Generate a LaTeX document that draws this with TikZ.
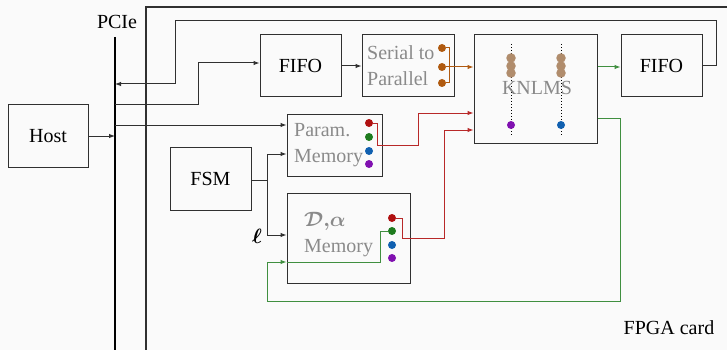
\documentclass[tikz,border=0pt]{standalone}
\usepackage{amsmath}
\usepackage{fontspec}
\setmainfont{Liberation Serif}
\usetikzlibrary{arrows.meta}
\definecolor{cred}{HTML}{B01010}
\definecolor{cgreen}{HTML}{1E7B1E}
\definecolor{cblue}{HTML}{1060B0}
\definecolor{cpurple}{HTML}{8010B0}
\definecolor{corange}{HTML}{B05A10}
\definecolor{ctan}{HTML}{B08C6C}
\definecolor{cline}{HTML}{303030}
\definecolor{ctext}{HTML}{8A8A8A}
\begin{document}
\begin{tikzpicture}[x=1pt,y=-1pt,
  font=\fontsize{20}{26}\selectfont,
  box/.style={draw=cline,line width=1pt,inner sep=0pt},
  conn/.style={draw=cline,line width=1pt},
  arr/.style={-{Latex[length=6pt,width=4.5pt]}},
  graytext/.style={text=ctext,align=left,inner sep=0pt,anchor=west},
  dot/.style={circle,fill=#1,inner sep=0pt,minimum size=8pt},
  bigdot/.style={circle,fill=#1,inner sep=0pt,minimum size=9.5pt}]
\useasboundingbox (0,0) rectangle (727,350);
\fill[white!98!black] (0,0) rectangle (727,350);
% FPGA card
\draw[cline,line width=1.4pt] (727,7) -- (146,7) -- (146,352);
\node[anchor=center] (fpga) at (669,328) {FPGA card};
% PCIe bus
\draw[black,line width=2.6pt] (115,37) coordinate (bustop) -- (115,352) coordinate (busbot);
\node (pcie) at (117,22) {PCIe};
% boxes
\node[box,minimum width=80pt,minimum height=62pt] (host) at (48,136) {Host};
\node[box,minimum width=81pt,minimum height=62pt] (fifoa) at (300.5,66) {FIFO};
\node[box,minimum width=92pt,minimum height=62pt] (s2p) at (408,66) {};
\node[graytext] (s2ptext) at (367,66) {Serial to\\Parallel};
\node[box,minimum width=123pt,minimum height=108pt] (knlms) at (535.5,89) {};
\node[box,minimum width=81pt,minimum height=62pt] (fifob) at (661.5,66) {FIFO};
\node[box,minimum width=95pt,minimum height=62pt] (param) at (334.5,145) {};
\node[graytext] (paramtext) at (294,145) {Param.\\Memory};
\node[box,minimum width=81pt,minimum height=63pt] (fsm) at (210.5,178.5) {FSM};
\node[box,minimum width=123pt,minimum height=90pt] (dmem) at (348.5,238) {};
\node[graytext] (dmemtext) at (304,235) {{\boldmath$\mathcal{D}{,}\alpha$}\\Memory};
% KNLMS internals
\draw[black,line width=1pt,dotted] (511,44) coordinate (da) -- (511,135) coordinate (db);
\draw[black,line width=1pt,dotted] (561,44) coordinate (dc) -- (561,135) coordinate (dd);
\node[text=ctext] (knlmstext) at (537,88) {KNLMS};
\foreach \y [count=\i] in {58,66,73}{
  \node[bigdot=ctan] (ta\i) at (511,\y) {};
  \node[bigdot=ctan] (tb\i) at (561,\y) {};
}
\node[dot=cpurple] (kp) at (511,125) {};
\node[dot=cblue] (kb) at (561,125) {};
% serial to parallel dots
\node[dot=corange] (o1) at (442,48) {};
\node[dot=corange] (o2) at (442,67) {};
\node[dot=corange] (o3) at (442,83) {};
% param memory dots
\node[dot=cred] (pr) at (369,123) {};
\node[dot=cgreen] (pg) at (369,137) {};
\node[dot=cblue] (pb) at (369,151) {};
\node[dot=cpurple] (pp) at (369,164) {};
% D alpha memory dots
\node[dot=cred] (mr) at (392,218) {};
\node[dot=cgreen] (mg) at (392,231) {};
\node[dot=cblue] (mb) at (392,245) {};
\node[dot=cpurple] (mp) at (392,258) {};
% bus taps
\coordinate (bhost) at (115,136);
\coordinate (bout) at (115,84);
\coordinate (bin) at (115,105);
\coordinate (bpar) at (115,125);
% connectors
\draw[conn,arr] (host.east |- bhost) -- (bhost);
\draw[conn,arr] (fifob.east) -- (716,66) -- (716,21) -- (175,21) -- (175,84) -- (bout);
\draw[conn,arr] (bin) -- (198,105) -- (198,63) -- (fifoa.west |- 0,63);
\draw[conn,arr] (bpar) -- (param.west |- 0,125);
\draw[conn,arr] (fifoa.east) -- (s2p.west);
\draw[corange,line width=1pt] (o1) -- (449,48) -- (449,83) -- (o3);
\draw[corange,line width=1pt,arr] (o2) -- (knlms.west |- o2);
\draw[cgreen!85!white,line width=1pt,arr] (knlms.east |- 0,67) -- (fifob.west |- 0,67);
\coordinate (gin) at (dmem.west |- 0,262);
\draw[cgreen!85!white,line width=1pt,arr] (knlms.east |- 0,118) -- (620,118) -- (620,301) -- (267,301) -- (267,262) -- (gin);
\draw[cgreen!85!white,line width=1pt] (gin) -- (380,262) -- (380,231) -- (mg);
\draw[cred!90!white,line width=1pt,arr] (pr) -- (377,123) -- (377,145) -- (418,145) -- (418,113) -- (knlms.west |- 0,113);
\draw[cred!90!white,line width=1pt,arr] (mr) -- (402,218) -- (402,238) -- (444,238) -- (444,130) -- (knlms.west |- 0,130);
\coordinate (fsmsplit) at (267,180);
\draw[conn] (fsm.east |- fsmsplit) -- (fsmsplit);
\draw[conn,arr] (fsmsplit) -- (267,154) -- (param.west |- 0,154);
\draw[conn,arr] (fsmsplit) -- (267,235) -- (dmem.west |- 0,235);
\node (ell) at (257,236) {$\boldsymbol{\ell}$};
\end{tikzpicture}
\end{document}
